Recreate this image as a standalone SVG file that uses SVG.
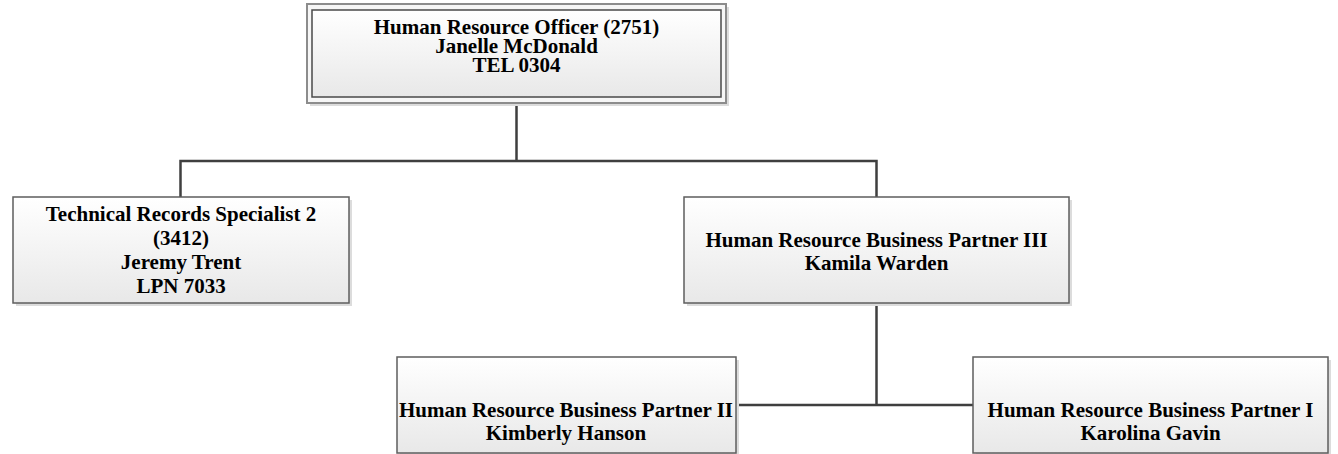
<svg xmlns="http://www.w3.org/2000/svg" width="1338" height="454" viewBox="0 0 1338 454">
  <defs>
    <linearGradient id="boxFill" x1="0" y1="0" x2="0" y2="1">
      <stop offset="0" stop-color="#ffffff"/>
      <stop offset="1" stop-color="#e8e8e8"/>
    </linearGradient>
  </defs>
  <style>
    .shadow { fill: #dcdcdc; }
    .box { fill: url(#boxFill); stroke: #5e5e5e; stroke-width: 1.5; }
    .outer { fill: #f6f6f6; stroke: #8c8c8c; stroke-width: 2; }
    .inner { fill: url(#boxFill); stroke: #4a4a4a; stroke-width: 1.5; }
    .label { font-family: "Liberation Serif", "Times New Roman", serif; font-weight: bold; font-size: 21px; fill: #000; text-anchor: middle; }
    .link { fill: none; stroke: #3f3f3f; stroke-width: 2.5; }
  </style>

  <!-- reporting lines -->
  <g id="connectors">
    <path class="link" d="M516.5,103 V161 M180.5,197 V161 H876.5 V197"/>
    <path class="link" d="M876.5,303 V405 M736,405 H973"/>
  </g>

  <!-- head of department -->
  <g id="hr-officer">
    <rect class="shadow" x="310" y="7" width="419" height="99"/>
    <rect class="outer" x="307" y="4" width="419" height="99"/>
    <rect class="inner" x="312" y="10" width="409" height="87"/>
    <text class="label" x="516.5" y="34">Human Resource Officer (2751)</text>
    <text class="label" x="516.5" y="53">Janelle McDonald</text>
    <text class="label" x="516.5" y="72">TEL 0304</text>
  </g>

  <g id="records-specialist">
    <rect class="shadow" x="16" y="200" width="336" height="106"/>
    <rect class="box" x="13" y="197" width="336" height="106"/>
    <text class="label" x="181" y="221">Technical Records Specialist 2</text>
    <text class="label" x="181" y="245">(3412)</text>
    <text class="label" x="181" y="269">Jeremy Trent</text>
    <text class="label" x="181" y="293">LPN 7033</text>
  </g>

  <g id="partner-3">
    <rect class="shadow" x="687" y="200" width="385" height="106"/>
    <rect class="box" x="684" y="197" width="385" height="106"/>
    <text class="label" x="876.5" y="247">Human Resource Business Partner III</text>
    <text class="label" x="876.5" y="270">Kamila Warden</text>
  </g>

  <g id="partner-2">
    <rect class="shadow" x="400" y="360" width="339" height="96"/>
    <rect class="box" x="397" y="357" width="339" height="96"/>
    <text class="label" x="566" y="417">Human Resource Business Partner II</text>
    <text class="label" x="566" y="440">Kimberly Hanson</text>
  </g>

  <g id="partner-1">
    <rect class="shadow" x="976" y="360" width="355" height="96"/>
    <rect class="box" x="973" y="357" width="355" height="96"/>
    <text class="label" x="1150.5" y="417">Human Resource Business Partner I</text>
    <text class="label" x="1150.5" y="440">Karolina Gavin</text>
  </g>
</svg>
